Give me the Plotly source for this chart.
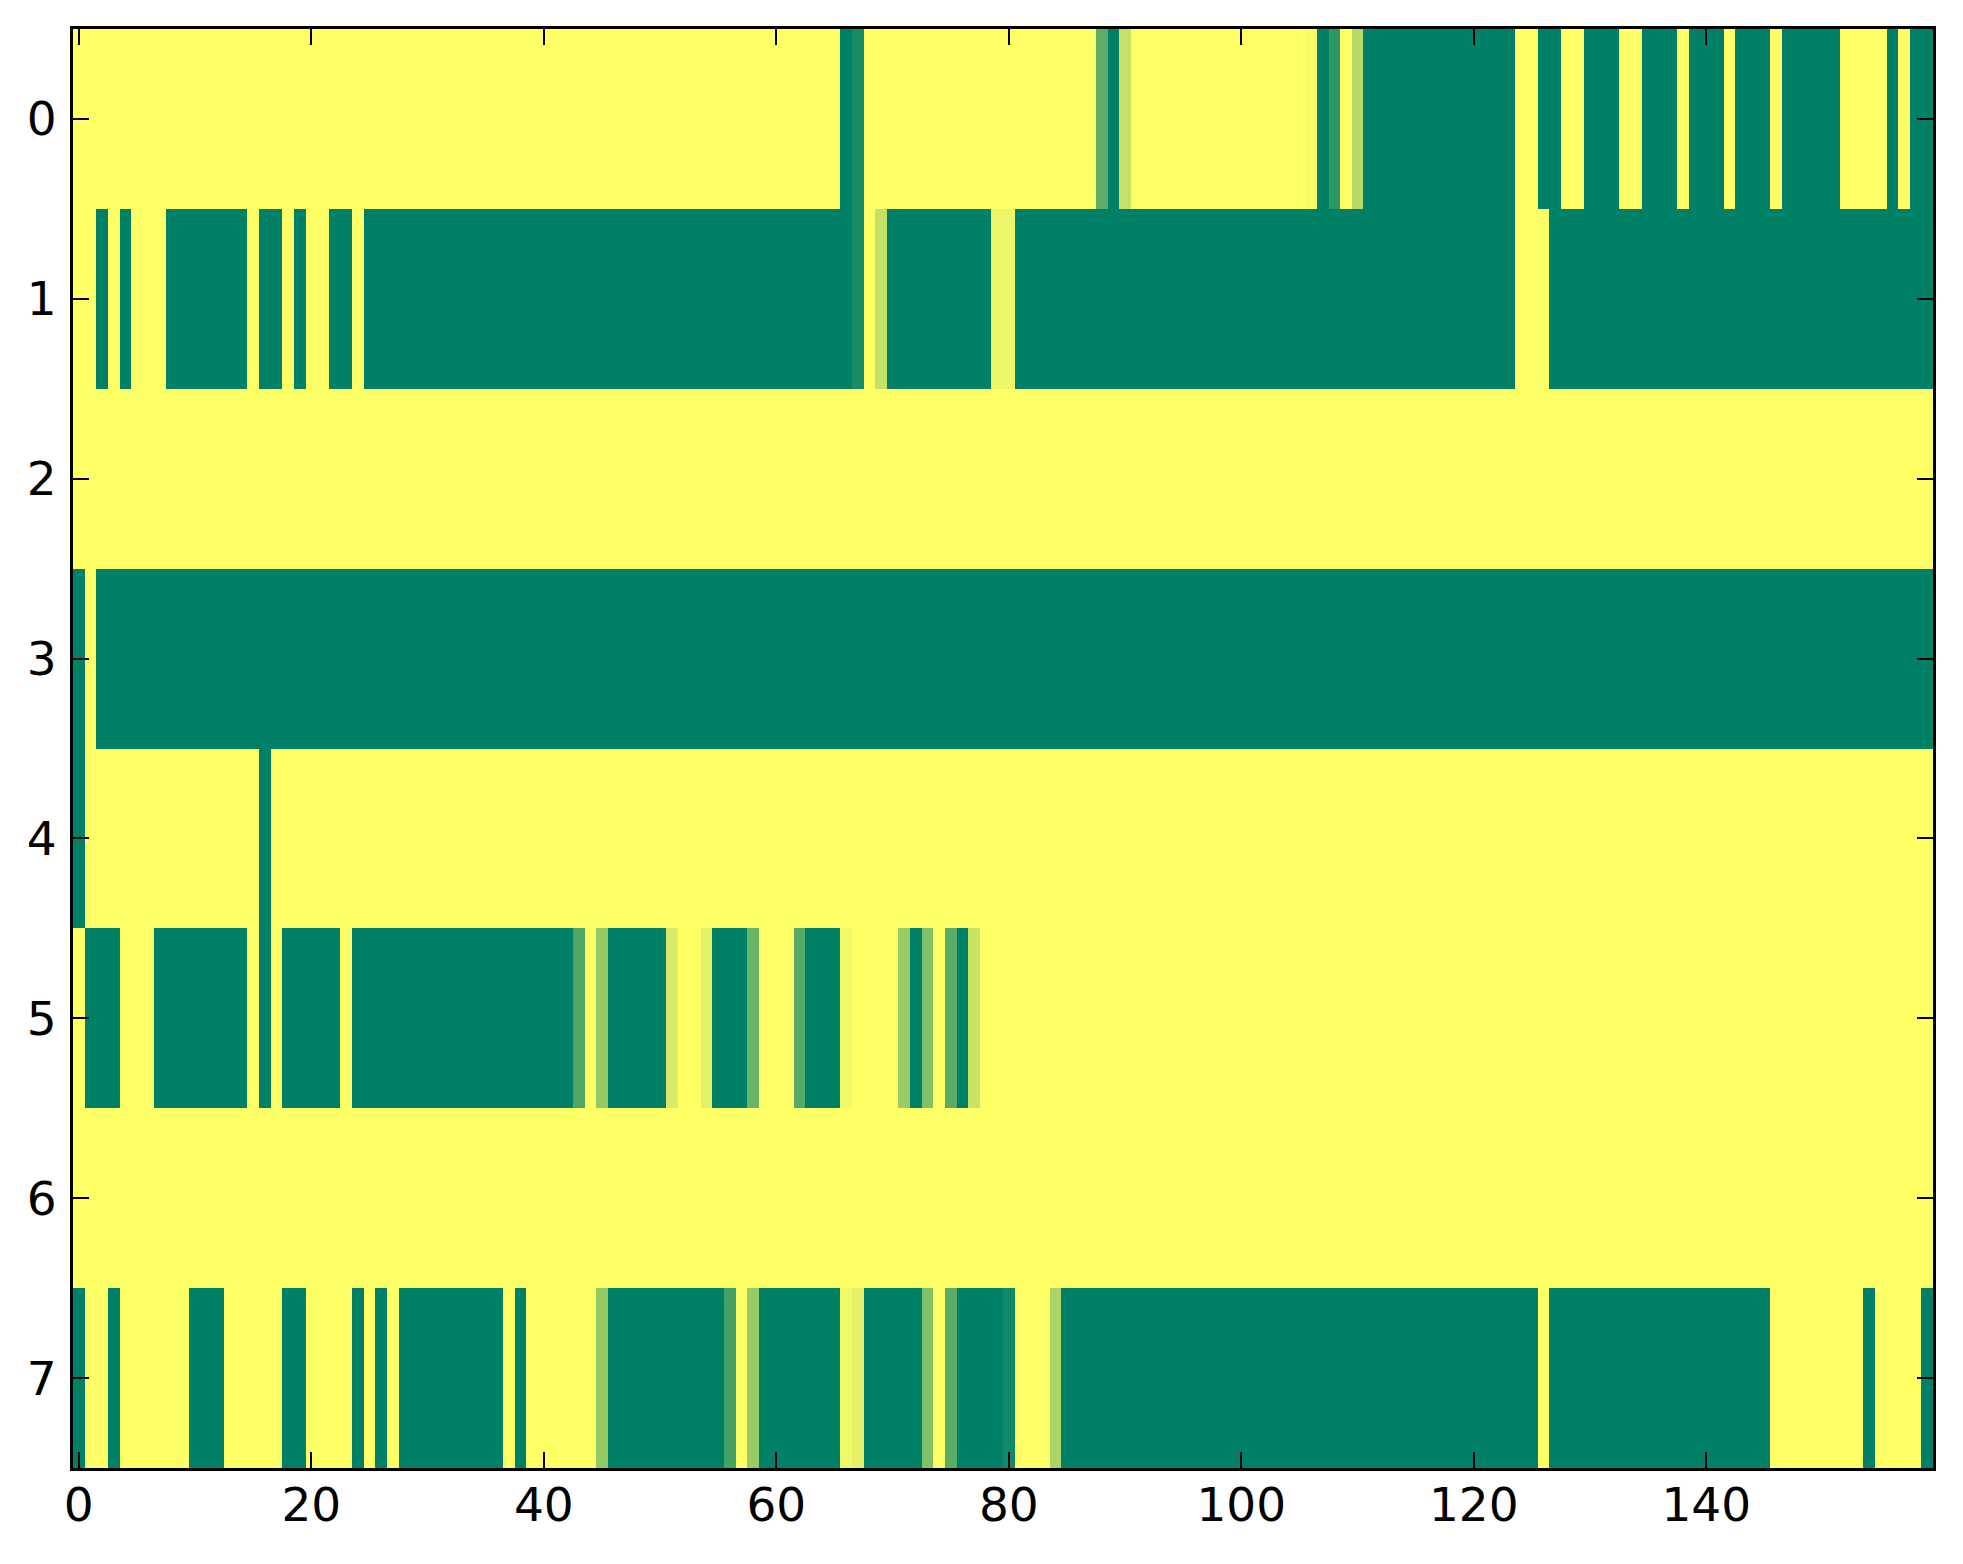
import plotly.graph_objects as go

# Each row given as runs of (value, number of columns) (160 columns)
row_0 = [(1, 66), (0, 1), (0.09, 1), (1, 20), (0.36, 1), (0, 1), (0.77, 1), (1, 15),
         (0.97, 1), (0, 1), (0.18, 1), (1, 1), (0.71, 1), (0, 13), (1, 2), (0, 2), (1, 2),
         (0, 3), (1, 2), (0, 3), (1, 1), (0, 3), (1, 1), (0, 3), (1, 1), (0, 5), (1, 4),
         (0, 1), (1, 1), (0, 2)]
row_1 = [(1, 2), (0, 1), (1, 1), (0, 1), (1, 3), (0, 7), (1, 1), (0, 2), (1, 1), (0, 1),
         (1, 2), (0, 2), (1, 1), (0, 42), (0.09, 1), (1, 1), (0.77, 1), (0, 9), (0.93, 2),
         (0, 43), (1, 3), (0, 33)]
row_2 = [(1, 160)]
row_3 = [(0, 1), (1, 1), (0, 158)]
row_4 = [(0, 1), (1, 15), (0, 1), (1, 143)]
row_5 = [(1, 1), (0, 3), (1, 3), (0, 8), (1, 1), (0, 1), (1, 1), (0, 5), (1, 1), (0, 19),
         (0.31, 1), (1, 1), (0.58, 1), (0, 5), (0.84, 1), (1, 2), (0.89, 1), (0, 3),
         (0.41, 1), (1, 3), (0.33, 1), (0, 3), (0.95, 1), (1, 4), (0.6, 1), (0, 1),
         (0.5, 1), (1, 1), (0.35, 1), (0, 1), (0.78, 1), (1, 82)]
row_6 = [(1, 160)]
row_7 = [(0, 1), (1, 2), (0, 1), (1, 6), (0, 3), (1, 5), (0, 2), (1, 4), (0, 1), (1, 1),
         (0, 1), (1, 1), (0, 9), (1, 1), (0, 1), (1, 6), (0.58, 1), (0, 10), (0.27, 1),
         (1, 1), (0.59, 1), (0, 7), (0.95, 1), (0.9, 1), (0, 5), (0.5, 1), (1, 1),
         (0.35, 1), (0, 4), (0.07, 1), (1, 3), (0.67, 1), (0, 41), (1, 1), (0, 19),
         (1, 8), (0, 1), (1, 4), (0, 1)]

rows = [row_0, row_1, row_2, row_3, row_4, row_5, row_6, row_7]
x_ticks = [0, 20, 40, 60, 80, 100, 120, 140]
y_ticks = [0, 1, 2, 3, 4, 5, 6, 7]


def expand(runs):
    out = []
    for v, n in runs:
        out.extend([v] * n)
    return out


z = [expand(r) for r in rows]
n_cols = len(z[0])

fig = go.Figure(go.Heatmap(
    z=z,
    x=list(range(n_cols)),
    y=y_ticks,
    zmin=0, zmax=1,
    colorscale=[[0, "#008066"], [1, "#ffff66"]],
    showscale=False,
))

axis_common = dict(
    showline=True, linecolor="black", linewidth=3, mirror="ticks",
    ticks="inside", ticklen=16, tickwidth=1.5, tickcolor="black",
    showgrid=False, zeroline=False,
    tickfont=dict(family="DejaVu Sans", size=47, color="black"),
)

fig.update_xaxes(range=[-0.5, n_cols - 0.5], tickvals=x_ticks, ticklabelstandoff=-6,
                 **axis_common)
fig.update_yaxes(range=[7.5, -0.5], tickvals=y_ticks, ticklabelstandoff=4,
                 **axis_common)

fig.update_layout(
    width=1955, height=1556,
    margin=dict(l=65, r=30, t=21, b=96),
    paper_bgcolor="white", plot_bgcolor="white",
)

fig.write_html("out.html")
